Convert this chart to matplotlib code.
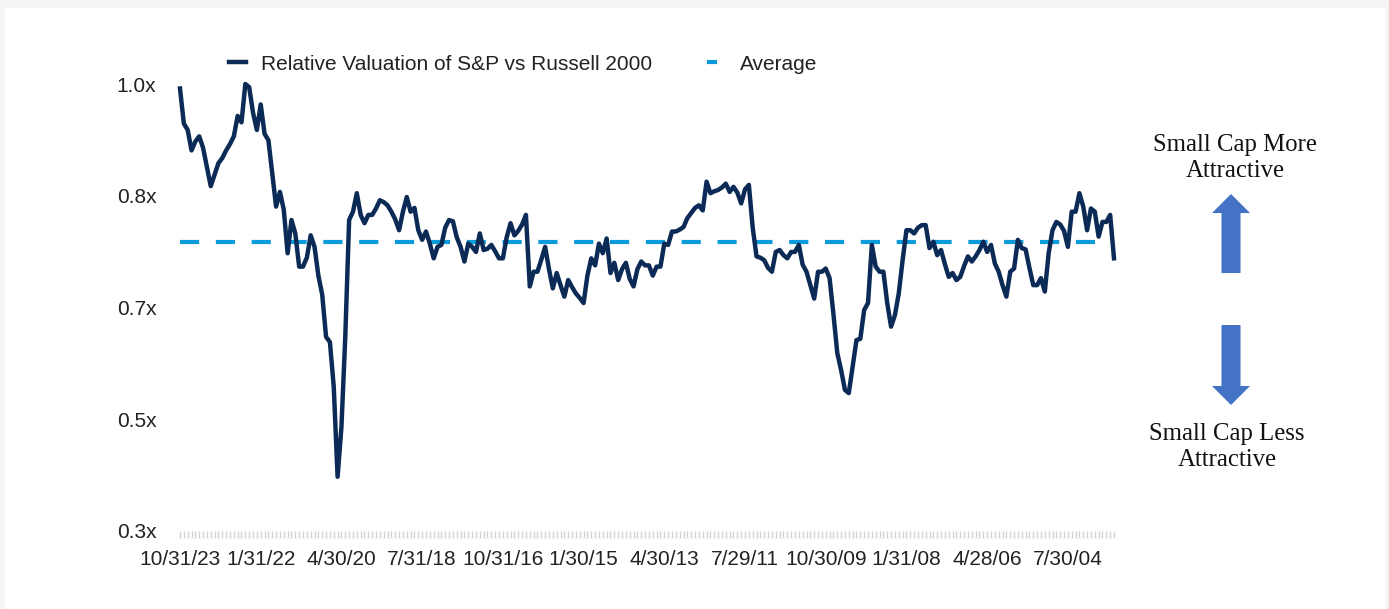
import numpy as np
import pandas as pd
import matplotlib
matplotlib.use("Agg")
import matplotlib.pyplot as plt
from matplotlib.patches import Rectangle
from matplotlib.lines import Line2D

# Relative valuation (S&P 500 vs Russell 2000), monthly, newest first (10/31/23 -> 7/31/03)
valores = [
    0.993, 0.938, 0.928, 0.896, 0.910, 0.918, 0.900, 0.870, 0.840, 0.858,
    0.876, 0.884, 0.896, 0.906, 0.918, 0.950, 0.940, 1.000, 0.995, 0.955,
    0.928, 0.968, 0.922, 0.912, 0.860, 0.808, 0.831, 0.803, 0.735, 0.787,
    0.766, 0.714, 0.714, 0.728, 0.763, 0.745, 0.700, 0.670, 0.604, 0.596,
    0.526, 0.385, 0.463, 0.604, 0.787, 0.800, 0.829, 0.795, 0.782, 0.795,
    0.795, 0.805, 0.818, 0.815, 0.810, 0.800, 0.788, 0.771, 0.800, 0.823,
    0.800, 0.806, 0.771, 0.756, 0.769, 0.750, 0.727, 0.745, 0.748, 0.775,
    0.787, 0.785, 0.760, 0.745, 0.722, 0.750, 0.745, 0.737, 0.766, 0.740,
    0.742, 0.748, 0.738, 0.727, 0.727, 0.760, 0.782, 0.763, 0.770, 0.780,
    0.795, 0.683, 0.706, 0.706, 0.725, 0.745, 0.710, 0.680, 0.704, 0.685,
    0.667, 0.693, 0.682, 0.672, 0.665, 0.657, 0.700, 0.727, 0.716, 0.750,
    0.735, 0.758, 0.704, 0.720, 0.693, 0.710, 0.720, 0.695, 0.683, 0.710,
    0.722, 0.716, 0.716, 0.700, 0.714, 0.714, 0.750, 0.748, 0.769, 0.769,
    0.772, 0.776, 0.790, 0.798, 0.806, 0.810, 0.802, 0.847, 0.829, 0.832,
    0.834, 0.838, 0.844, 0.831, 0.839, 0.830, 0.813, 0.835, 0.842, 0.775,
    0.730, 0.728, 0.724, 0.712, 0.706, 0.737, 0.740, 0.732, 0.727, 0.737,
    0.737, 0.748, 0.717, 0.706, 0.685, 0.664, 0.706, 0.706, 0.711, 0.696,
    0.640, 0.579, 0.552, 0.521, 0.516, 0.557, 0.599, 0.601, 0.646, 0.657,
    0.748, 0.714, 0.706, 0.706, 0.657, 0.620, 0.638, 0.672, 0.724, 0.771,
    0.771, 0.766, 0.775, 0.779, 0.779, 0.743, 0.753, 0.732, 0.740, 0.718,
    0.698, 0.704, 0.693, 0.698, 0.715, 0.730, 0.722, 0.730, 0.740, 0.753,
    0.737, 0.748, 0.719, 0.706, 0.685, 0.667, 0.706, 0.711, 0.756, 0.743,
    0.741, 0.712, 0.685, 0.685, 0.696, 0.675, 0.735, 0.771, 0.784, 0.780,
    0.770, 0.745, 0.800, 0.800, 0.829, 0.808, 0.771, 0.805, 0.800, 0.761,
    0.784, 0.784, 0.795, 0.727,
]
media = 0.753

datas = pd.date_range(end="2023-10-31", periods=len(valores), freq="ME")[::-1]
rotulos_x = ["10/31/23", "1/31/22", "4/30/20", "7/31/18", "10/31/16", "1/30/15",
             "4/30/13", "7/29/11", "10/30/09", "1/31/08", "4/28/06", "7/30/04"]
passo_rotulo = 21

ticks_y = [0.3, 0.475, 0.65, 0.825, 1.0]
rotulos_y = ["0.3x", "0.5x", "0.7x", "0.8x", "1.0x"]

COR_LINHA = "#0B2A55"
COR_MEDIA = "#0A9BDB"
COR_SETA = "#4472C4"
COR_TEXTO = "#222222"

plt.rcParams["font.family"] = ["Liberation Sans", "DejaVu Sans"]

fig = plt.figure(figsize=(13.89, 6.09), dpi=100, facecolor="#f4f4f4")
fig.patches.append(Rectangle((5 / 1389, 0), 1381 / 1389, 601 / 609,
                             transform=fig.transFigure, facecolor="white",
                             edgecolor="none", zorder=-10))

ax = fig.add_axes([180 / 1389, 1 - 531 / 609, (1114 - 180) / 1389, (531 - 84) / 609])
ax.set_facecolor("none")

x = np.arange(len(valores))
ax.plot(x, valores, color=COR_LINHA, lw=3.2, solid_joinstyle="round", zorder=3,
        clip_on=False)
ax.plot(x, [media] * len(x), color=COR_MEDIA, lw=3.0, dashes=(4.6, 4.0), zorder=2)

ax.set_xlim(0, len(valores) - 1)
ax.set_ylim(0.3, 1.0)
ax.set_yticks(ticks_y)
ax.set_yticklabels(rotulos_y)
ax.set_xticks(x[::passo_rotulo][:len(rotulos_x)])
ax.set_xticklabels(rotulos_x)
ax.set_xticks(x, minor=True)

for s in ax.spines.values():
    s.set_visible(False)
ax.tick_params(axis="y", length=0, pad=17, labelsize=15, labelcolor=COR_TEXTO)
ax.tick_params(axis="x", which="major", length=5, width=1.0, color="#d3d3d3",
               pad=9, labelsize=15, labelcolor=COR_TEXTO)
ax.tick_params(axis="x", which="minor", length=5, width=1.0, color="#d3d3d3")

leg_handles = [
    Line2D([0], [0], color=COR_LINHA, lw=3.2),
    Line2D([0], [0], color=COR_MEDIA, lw=3.0, dashes=(2.4, 4.0)),
]
fig.legend(leg_handles, ["Relative Valuation of S&P vs Russell 2000", "Average"],
           loc="center left", bbox_to_anchor=(210 / 1389, 1 - 64 / 609), ncol=2,
           frameon=False, fontsize=15, handlelength=0.85, handletextpad=0.72,
           columnspacing=2.6, labelcolor=COR_TEXTO)

# textos e setas do lado direito
fonte_serif = dict(family=["Liberation Serif", "DejaVu Serif"], fontsize=17.8,
                   color="#111111", ha="center", va="center", linespacing=1.2)
fig.text(1235 / 1389, 1 - 158 / 609, "Small Cap More\nAttractive", **fonte_serif)
fig.text(1227 / 1389, 1 - 447 / 609, "Small Cap Less\nAttractive", **fonte_serif)

estilo = "simple,head_length=1.0,head_width=2.0,tail_width=1.0"
for ponta, base in [((1231, 609 - 194), (1231, 609 - 273)),
                    ((1231, 609 - 405), (1231, 609 - 325))]:
    fig.add_artist(plt.matplotlib.text.Annotation(
        "", xy=ponta, xycoords="figure pixels", xytext=base,
        textcoords="figure pixels",
        arrowprops=dict(arrowstyle=estilo, mutation_scale=13.7, color=COR_SETA,
                        shrinkA=0, shrinkB=0, lw=0)))

fig.savefig("out.png", dpi=100, facecolor=fig.get_facecolor())
